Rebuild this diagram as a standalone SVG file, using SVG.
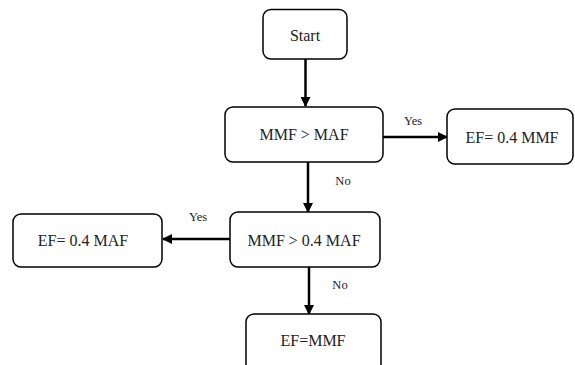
<svg xmlns="http://www.w3.org/2000/svg" width="575" height="365" viewBox="0 0 575 365">
<style>
.box{fill:#fff;stroke:#000;stroke-width:1.5}
.t{font-family:'Liberation Serif','DejaVu Serif',serif;font-size:16px;fill:#222;text-anchor:middle}
.l{font-family:'Liberation Serif','DejaVu Serif',serif;font-size:12.5px;fill:#222;text-anchor:middle}
.c{stroke:#000;stroke-width:2.5;fill:none;marker-end:url(#ah)}
</style>
<defs>
<marker id="ah" markerWidth="10" markerHeight="10" refX="9" refY="5" orient="auto" markerUnits="userSpaceOnUse">
<path d="M0,0 L10,5 L0,10 Z" fill="#000"/>
</marker>
</defs>
<rect width="575" height="365" fill="#fff"/>
<g id="connectors">
<line class="c" x1="305.5" y1="59" x2="305.5" y2="106"/>
<line class="c" x1="383" y1="137" x2="447" y2="137"/>
<line class="c" x1="308" y1="162" x2="308" y2="212"/>
<line class="c" x1="230" y1="239" x2="163" y2="239"/>
<line class="c" x1="309" y1="267" x2="309" y2="314"/>
<text class="l" x="413" y="125">Yes</text>
<text class="l" x="343" y="185">No</text>
<text class="l" x="198" y="221">Yes</text>
<text class="l" x="340" y="289">No</text>
</g>
<g id="start"><rect class="box" x="263" y="9.5" width="84" height="49.5" rx="8"/><text class="t" x="305" y="40.5">Start</text></g>
<g id="cond1"><rect class="box" x="225" y="107" width="158" height="55" rx="8"/><text class="t" x="304" y="139.5">MMF &gt; MAF</text></g>
<g id="ef1"><rect class="box" x="447" y="109" width="126" height="55" rx="8"/><text class="t" x="512" y="142.5">EF= 0.4 MMF</text></g>
<g id="cond2"><rect class="box" x="230" y="212" width="150" height="55" rx="8"/><text class="t" x="304" y="245.5">MMF &gt; 0.4 MAF</text></g>
<g id="ef2"><rect class="box" x="13" y="214" width="149" height="53" rx="8"/><text class="t" x="83" y="245.5">EF= 0.4 MAF</text></g>
<g id="ef3"><rect class="box" x="246" y="314" width="135" height="60" rx="8"/><text class="t" x="313" y="345.5">EF=MMF</text></g>
</svg>
